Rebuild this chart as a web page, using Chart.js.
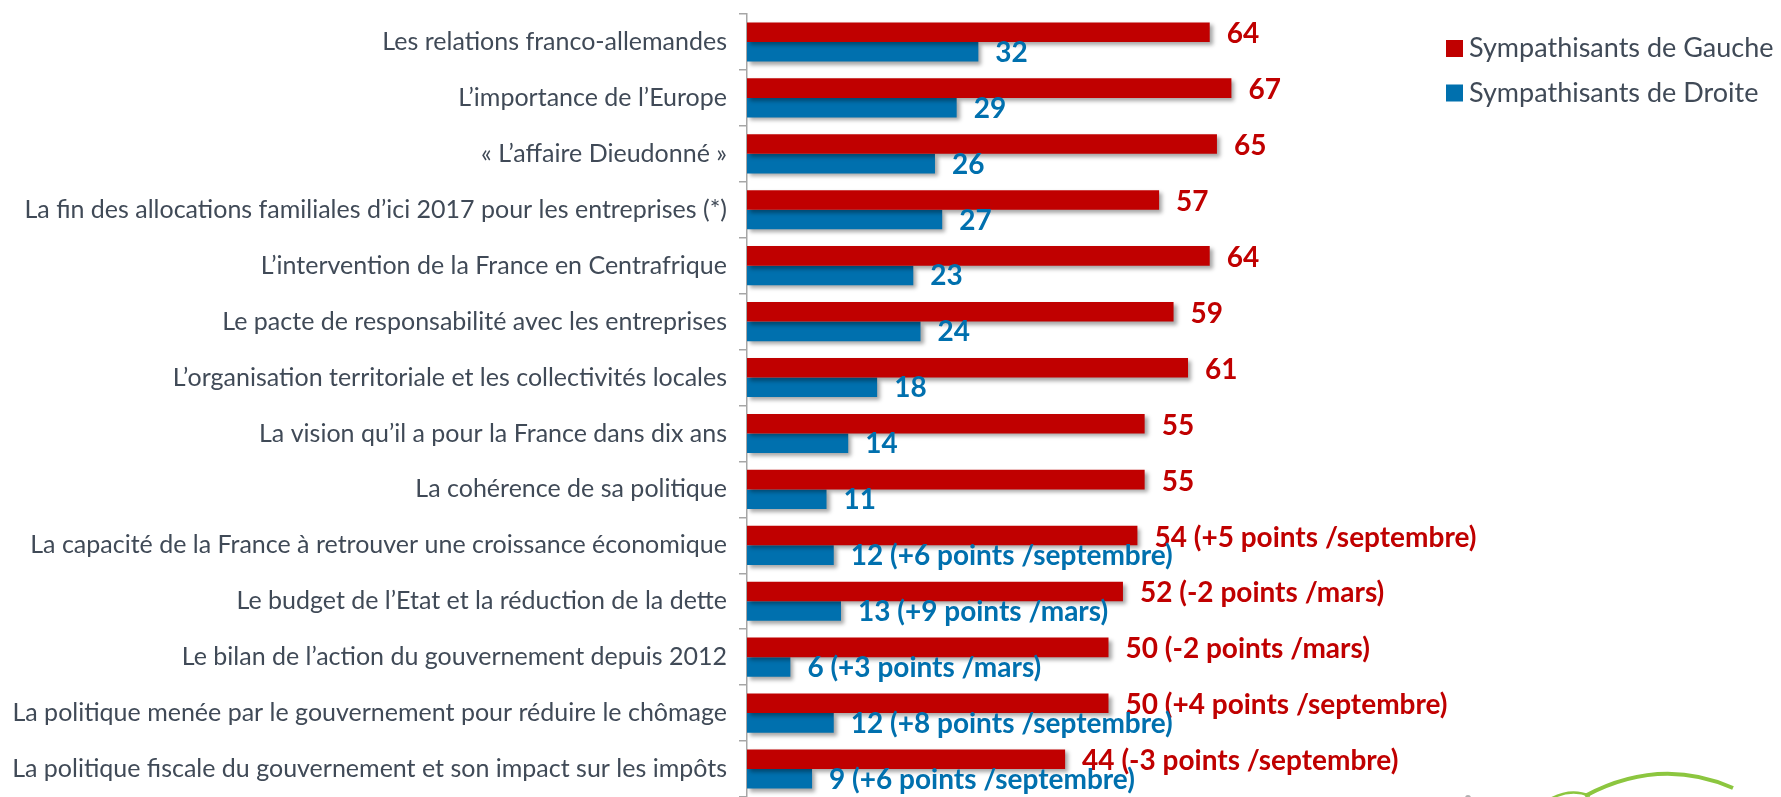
<!DOCTYPE html>
<html lang="fr">
<head>
<meta charset="utf-8">
<script src="https://cdn.jsdelivr.net/npm/chart.js@4.4.1/dist/chart.umd.min.js"></script>
<style>
  html, body { margin: 0; padding: 0; background: #fff; overflow: hidden; }
  #wrap { width: 1781px; height: 797px; }
</style>
</head>
<body>
<div id="wrap"><canvas id="chart" width="1781" height="797"></canvas></div>
<script>
const categories = [
  'Les relations franco-allemandes',
  'L’importance de l’Europe',
  '« L’affaire Dieudonné »',
  'La fin des allocations familiales d’ici 2017 pour les entreprises (*)',
  'L’intervention de la France en Centrafrique',
  'Le pacte de responsabilité avec les entreprises',
  'L’organisation territoriale et les collectivités locales',
  'La vision qu’il a pour la France dans dix ans',
  'La cohérence de sa politique',
  'La capacité de la France à retrouver une croissance économique',
  'Le budget de l’Etat et la réduction de la dette',
  'Le bilan de l’action du gouvernement depuis 2012',
  'La politique menée par le gouvernement pour réduire le chômage',
  'La politique fiscale du gouvernement et son impact sur les impôts'
];
const gauche = [64, 67, 65, 57, 64, 59, 61, 55, 55, 54, 52, 50, 50, 44];
const droite = [32, 29, 26, 27, 23, 24, 18, 14, 11, 12, 13, 6, 12, 9];
const gaucheNotes = ['', '', '', '', '', '', '', '', '',
  '(+5 points /septembre)', '(-2 points /mars)', '(-2 points /mars)',
  '(+4 points /septembre)', '(-3 points /septembre)'];
const droiteNotes = ['', '', '', '', '', '', '', '', '',
  '(+6 points /septembre)', '(+9 points /mars)', '(+3 points /mars)',
  '(+8 points /septembre)', '(+6 points /septembre)'];
const seriesNames = ['Sympathisants de Gauche', 'Sympathisants de Droite'];
const seriesColors = ['#C00000', '#0070AE'];

const TEXT_GREY = '#404a57';

// drop shadow under the bars, like the original office chart
const barShadow = {
  id: 'barShadow',
  beforeDatasetsDraw(chart) {
    const ctx = chart.ctx;
    ctx.save();
    ctx.shadowColor = 'rgba(0,0,0,0.35)';
    ctx.shadowBlur = 4;
    ctx.shadowOffsetX = 3;
    ctx.shadowOffsetY = 3;
  },
  afterDatasetsDraw(chart) {
    chart.ctx.restore();
  }
};

// value labels at the end of each bar
const valueLabels = {
  id: 'valueLabels',
  afterDatasetsDraw(chart) {
    const ctx = chart.ctx;
    const notes = [gaucheNotes, droiteNotes];
    ctx.save();
    ctx.font = 'bold 28px Lato';
    ctx.textAlign = 'left';
    ctx.textBaseline = 'middle';
    chart.data.datasets.forEach((ds, i) => {
      const meta = chart.getDatasetMeta(i);
      ctx.fillStyle = seriesColors[i];
      meta.data.forEach((bar, j) => {
        const note = notes[i][j];
        const txt = ds.data[j] + (note ? ' ' + note : '');
        ctx.fillText(txt, bar.x + 17, bar.y + (i === 0 ? 2 : 1));
      });
    });
    ctx.restore();
  }
};

// legend in the top right corner + the bit of logo at the bottom
const sideLegend = {
  id: 'sideLegend',
  afterDraw(chart) {
    const ctx = chart.ctx;
    ctx.save();
    ctx.font = '27px Lato';
    ctx.textBaseline = 'middle';
    ctx.textAlign = 'left';
    chart.data.datasets.forEach((ds, i) => {
      const y = 48.5 + i * 44.5;
      ctx.fillStyle = ds.backgroundColor;
      ctx.fillRect(1446, y - 8.5, 17, 17);
      ctx.fillStyle = TEXT_GREY;
      ctx.fillText(ds.label, 1469, y);
    });
    ctx.strokeStyle = '#8cc63f';
    ctx.lineCap = 'butt';
    ctx.lineWidth = 4;
    ctx.beginPath();
    ctx.moveTo(1585, 796);
    ctx.quadraticCurveTo(1660, 756, 1733, 788);
    ctx.stroke();
    ctx.lineWidth = 2.5;
    ctx.beginPath();
    ctx.moveTo(1552, 798);
    ctx.quadraticCurveTo(1572, 788, 1590, 796);
    ctx.stroke();
    ctx.fillStyle = '#b0b0b0';
    ctx.beginPath();
    ctx.arc(1468, 798, 3, 0, Math.PI * 2);
    ctx.fill();
    ctx.restore();
  }
};

const ctx = document.getElementById('chart').getContext('2d');
new Chart(ctx, {
  type: 'bar',
  data: {
    labels: categories,
    datasets: [
      { label: seriesNames[0], data: gauche, backgroundColor: seriesColors[0] },
      { label: seriesNames[1], data: droite, backgroundColor: seriesColors[1] }
    ]
  },
  options: {
    indexAxis: 'y',
    responsive: false,
    animation: false,
    devicePixelRatio: 1,
    datasets: {
      bar: { barPercentage: 1, categoryPercentage: 0.7 }
    },
    layout: { padding: { top: 14, right: 311, bottom: 0, left: 0 } },
    plugins: {
      legend: { display: false },
      tooltip: { enabled: false }
    },
    scales: {
      x: { min: 0, max: 100, display: false },
      y: {
        grid: { offset: true, drawOnChartArea: false, tickLength: 8, color: '#a6a6a6', lineWidth: 1.5 },
        border: { color: '#a6a6a6', width: 1.5 },
        ticks: { padding: 12, color: TEXT_GREY, font: { family: 'Lato', size: 25 } },
        afterFit(scale) {
          scale.width = 747;
          scale.paddingTop = 0;
          scale.paddingBottom = 0;
        }
      }
    }
  },
  plugins: [barShadow, valueLabels, sideLegend]
});
</script>
</body>
</html>
